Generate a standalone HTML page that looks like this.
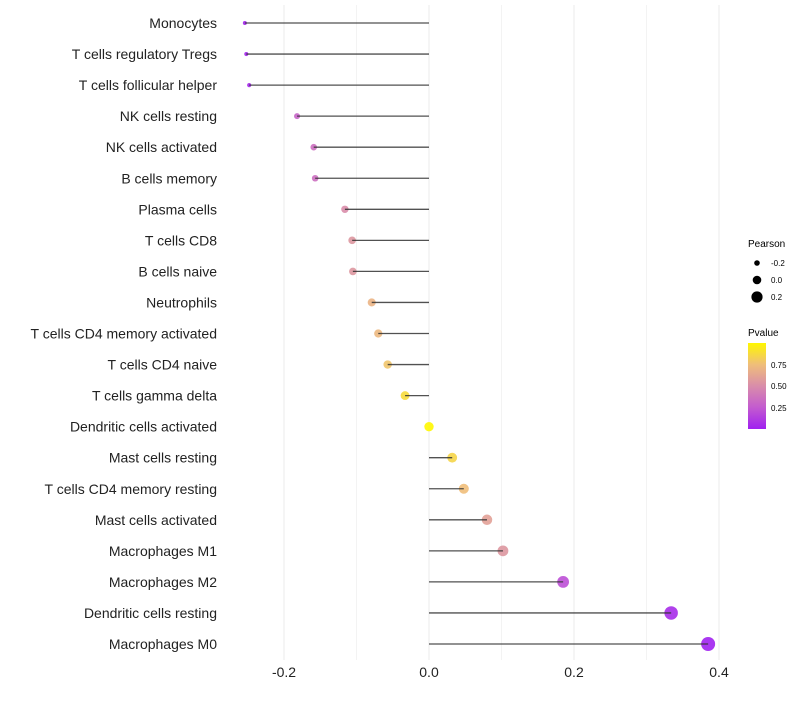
<!DOCTYPE html>
<html><head><meta charset="utf-8"><style>
body{margin:0;background:#fff;font-family:"Liberation Sans",sans-serif}
</style></head><body>
<svg id="chart" width="800" height="700" xmlns="http://www.w3.org/2000/svg" font-family="Liberation Sans, sans-serif">
<defs><linearGradient id="pg" x1="0" y1="1" x2="0" y2="0">
<stop offset="0" stop-color="#A020F0"/><stop offset="0.25" stop-color="#C35BCF"/><stop offset="0.5" stop-color="#D98DAA"/><stop offset="0.75" stop-color="#EFBE7A"/><stop offset="1" stop-color="#FFF700"/></linearGradient></defs>
<g id="grid"></g><g id="points"></g><g id="marks"></g><g id="labels"></g>
<g>
<text x="748" y="247" font-size="10">Pearson</text>
<circle cx="757" cy="263" r="2.8" fill="#000"/><text x="771" y="266" font-size="8">-0.2</text>
<circle cx="757" cy="280" r="4.3" fill="#000"/><text x="771" y="283" font-size="8">0.0</text>
<circle cx="757" cy="297" r="5.6" fill="#000"/><text x="771" y="300" font-size="8">0.2</text>
</g>
<g>
<text x="748" y="336" font-size="10">Pvalue</text>
<rect x="748" y="343" width="18" height="86" fill="url(#pg)"/>
<text x="771" y="368" font-size="8">0.75</text>
<text x="771" y="389" font-size="8">0.50</text>
<text x="771" y="411" font-size="8">0.25</text>
</g>
</svg>
<script>
const categories=["Monocytes","T cells regulatory  Tregs","T cells follicular helper","NK cells resting","NK cells activated","B cells memory","Plasma cells","T cells CD8","B cells naive","Neutrophils","T cells CD4 memory activated","T cells CD4 naive","T cells gamma delta","Dendritic cells activated","Mast cells resting","T cells CD4 memory resting","Mast cells activated","Macrophages M1","Macrophages M2","Dendritic cells resting","Macrophages M0"];
const pearson=[-0.254,-0.252,-0.248,-0.182,-0.159,-0.157,-0.116,-0.106,-0.105,-0.079,-0.070,-0.057,-0.033,0.0,0.032,0.048,0.080,0.102,0.185,0.334,0.385];
const pvalue=[0.02,0.02,0.03,0.3,0.35,0.35,0.5,0.55,0.55,0.7,0.72,0.78,0.88,1.0,0.85,0.75,0.6,0.55,0.2,0.05,0.01];
const xTicks=[-0.2,0,0.2,0.4];
const xTickLabels=["-0.2","0.0","0.2","0.4"];
const NS="http://www.w3.org/2000/svg";
const xs=v=>429+v*725;
const ys=i=>23+i*31.05;
const pmin=Math.min(...pearson),pmax=Math.max(...pearson);
const rs=v=>Math.sqrt(4+45*(v-pmin)/(pmax-pmin));
const stops=[[0,[160,32,240]],[0.25,[195,91,207]],[0.5,[217,141,170]],[0.75,[239,190,122]],[1,[255,247,0]]];
function col(p){for(let k=1;k<stops.length;k++){if(p<=stops[k][0]){const a=stops[k-1],b=stops[k],t=(p-a[0])/(b[0]-a[0]);return "rgb("+a[1].map((c,j)=>Math.round(c+(b[1][j]-c)*t)).join(",")+")";}}return "rgb(255,247,0)";}
function mk(t,a,p){const e=document.createElementNS(NS,t);for(const k in a)e.setAttribute(k,a[k]);p.appendChild(e);return e;}
const grid=document.getElementById('grid'),marks=document.getElementById('marks'),points=document.getElementById('points'),labels=document.getElementById('labels');
for(let v=-0.2;v<=0.41;v+=0.1){const l=mk('line',{x1:xs(v),x2:xs(v),y1:5,y2:660,stroke:"#ebebeb","stroke-width":Math.abs(Math.round(v*10))%2==0?1:0.6},grid);

}
xTicks.forEach((v,i)=>{const t=mk('text',{x:xs(v),y:677,"font-size":14,"text-anchor":"middle",fill:"#222"},labels);t.textContent=xTickLabels[i];

});
categories.forEach((c,i)=>{const y=ys(i);
const t=mk('text',{x:217,y:y+5,"font-size":14,"text-anchor":"end",fill:"#222"},labels);t.textContent=c;


const p=mk('circle',{cx:xs(pearson[i]),cy:y,r:rs(pearson[i]),fill:col(pvalue[i]),"fill-opacity":0.9},points);


const l=mk('line',{x1:xs(0),x2:xs(pearson[i]),y1:y,y2:y,stroke:"#333","stroke-width":1.3,"stroke-opacity":0.85},marks);

});
</script>
</body></html>
